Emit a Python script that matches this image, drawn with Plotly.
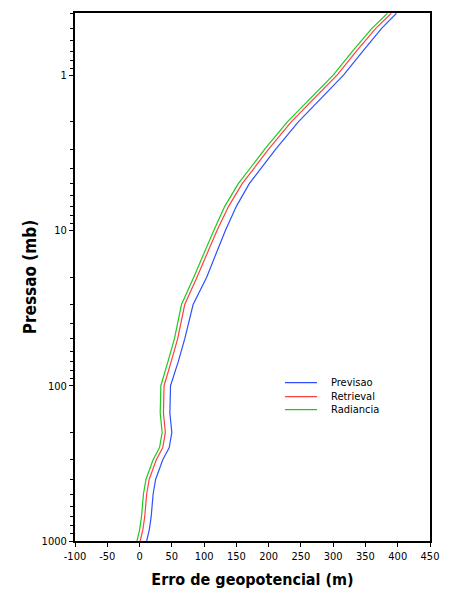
import plotly.graph_objects as go

pressure = [1000, 850, 700, 500, 400, 300, 250, 200, 150, 100, 70, 50, 30, 20, 10, 7, 5, 3, 2, 1, 0.7, 0.5, 0.4]
previsao = [11, 15, 18, 21, 25, 36, 46, 50, 47, 48, 60, 70, 83, 104, 133, 150, 170, 211, 246, 316, 346, 375, 398]
retrieval = [1, 5, 8, 11, 15, 26, 36, 40, 37, 38, 49, 59, 70, 89, 120, 138, 159, 200, 235, 306, 336, 366, 390]
radiancia = [-4, 0, 3, 6, 10, 21, 31, 35, 32, 33, 44, 54, 65, 84, 115, 132, 153, 194, 229, 300, 330, 360, 384]

series_names = ["Previsao", "Retrieval", "Radiancia"]
series_vals = [previsao, retrieval, radiancia]
series_colors = ["#3050ff", "#ff4040", "#20c820"]

x_ticks = list(range(-100, 451, 50))
y_ticks = [1, 10, 100, 1000]
y_minor = [m * 10 ** e for e in (-1, 0, 1, 2) for m in range(2, 10)]

fnt = "DejaVu Sans Condensed, Liberation Sans Narrow, Arial Narrow, sans-serif"

fig = go.Figure()
for name, vals, col in zip(series_names, series_vals, series_colors):
    fig.add_trace(go.Scatter(x=vals, y=pressure, mode="lines", name=name,
                             line=dict(color=col, width=1.2), showlegend=False))

# manual compact legend (paper coordinates)
leg_x0, leg_x1, leg_tx = 0.5915, 0.6817, 0.716
leg_y = [0.300, 0.2735, 0.249]
for name, col, yy in zip(series_names, series_colors, leg_y):
    fig.add_shape(type="line", xref="paper", yref="paper", x0=leg_x0, x1=leg_x1,
                  y0=yy, y1=yy, line=dict(color=col, width=1.2))
    fig.add_annotation(xref="paper", yref="paper", x=leg_tx, y=yy, text=name,
                       showarrow=False, xanchor="left", yanchor="middle",
                       font=dict(size=11, family=fnt, color="black"))

fig.update_layout(
    width=458, height=599,
    margin=dict(l=75, r=28, t=13, b=58),
    paper_bgcolor="white", plot_bgcolor="white",
    font=dict(family=fnt, size=11, color="black"),
    showlegend=False,
)
fig.update_xaxes(
    range=[-100, 450], tickmode="array", tickvals=x_ticks,
    ticktext=[str(v) for v in x_ticks],
    ticks="outside", ticklen=4, tickcolor="black",
    showline=True, linecolor="black", linewidth=2, mirror=True,
    showgrid=False, zeroline=False,
    title=dict(text="<b>Erro de geopotencial (m)</b>", font=dict(size=16, family=fnt), standoff=12),
)
fig.update_yaxes(
    type="log", range=[3, -0.4],
    tickmode="array", tickvals=y_ticks, ticktext=[str(v) for v in y_ticks],
    ticks="outside", ticklen=4, tickcolor="black",
    minor=dict(tickmode="array", tickvals=y_minor, ticks="outside", ticklen=3, tickcolor="black"),
    showline=True, linecolor="black", linewidth=2, mirror=True,
    showgrid=False, zeroline=False,
    title=dict(text="<b>Pressao (mb)</b>", font=dict(size=17, family=fnt), standoff=1),
)

fig.write_html("out.html")
